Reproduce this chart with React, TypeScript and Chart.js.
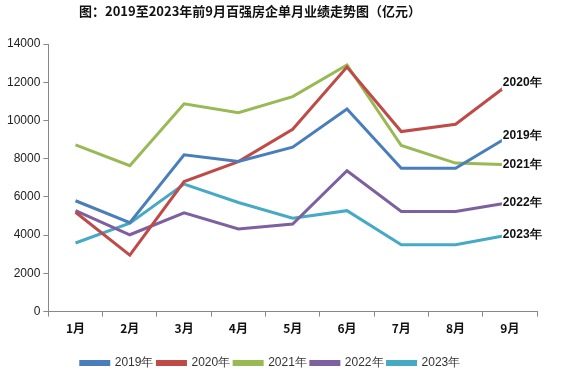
import React, { useEffect, useRef } from "react";
import { Chart, registerables } from "chart.js";

Chart.register(...registerables);

const months = ["1月", "2月", "3月", "4月", "5月", "6月", "7月", "8月", "9月"];
const seriesNames = ["2019年", "2020年", "2021年", "2022年", "2023年"];
const v2019 = [5800, 4650, 8200, 7850, 8600, 10600, 7500, 7500, 9200];
const v2020 = [5200, 2950, 6800, 7850, 9540, 12800, 9420, 9800, 11950];
const v2021 = [8720, 7630, 10870, 10410, 11250, 12900, 8690, 7770, 7680];
const v2022 = [5280, 4020, 5170, 4320, 4580, 7370, 5240, 5240, 5710];
const v2023 = [3590, 4630, 6670, 5710, 4890, 5280, 3500, 3500, 4020];
const colors = ["#4A7EBB", "#BE4B48", "#98B954", "#7D60A0", "#46AAC5"];
const titleText = "图：2019至2023年前9月百强房企单月业绩走势图（亿元）";

const endLabels = {
  id: "endLabels",
  afterDatasetsDraw(chart: any) {
    const ctx = chart.ctx;
    ctx.save();
    ctx.font = "bold 12px 'Liberation Sans', Arial, sans-serif";
    ctx.textBaseline = "middle";
    ctx.textAlign = "left";
    chart.data.datasets.forEach((ds: any, i: number) => {
      const meta = chart.getDatasetMeta(i);
      const pt = meta.data[meta.data.length - 1];
      if (!pt) return;
      const x = pt.x - 7;
      const y = pt.y;
      const w = ctx.measureText(ds.label).width;
      ctx.fillStyle = "#ffffff";
      ctx.fillRect(x - 1, y - 7, w + 2, 14);
      ctx.fillStyle = "#111111";
      ctx.fillText(ds.label, x, y);
    });
    ctx.restore();
  },
};

const titlePlugin = {
  id: "customTitle",
  afterDraw(chart: any) {
    const ctx = chart.ctx;
    ctx.save();
    ctx.font = "bold 13px 'Noto Sans CJK SC', sans-serif";
    ctx.fillStyle = "#111111";
    ctx.textAlign = "center";
    ctx.textBaseline = "middle";
    ctx.fillText(titleText, 250, 11);
    ctx.restore();
  },
};

export default function App() {
  const ref = useRef<HTMLCanvasElement>(null);
  useEffect(() => {
    document.body.style.margin = "0";
    const all = [v2019, v2020, v2021, v2022, v2023];
    const chart = new Chart(ref.current!, {
      type: "line",
      data: {
        labels: months,
        datasets: seriesNames.map((n, i) => ({
          label: n,
          data: all[i],
          borderColor: colors[i],
          backgroundColor: colors[i],
          borderWidth: 3,
          pointRadius: 0,
          tension: 0,
        })),
      },
      options: {
        animation: false,
        responsive: false,
        maintainAspectRatio: false,
        layout: { padding: { top: 44, right: 38, left: 4, bottom: 10 } },
        plugins: {
          title: { display: false },
          tooltip: { enabled: false },
          legend: {
            position: "bottom",
            labels: {
              boxWidth: 28,
              boxHeight: 3,
              padding: 4,
              color: "#333",
              font: { size: 12, family: "'Liberation Sans', Arial, sans-serif" },
            },
          },
        },
        scales: {
          x: {
            offset: true,
            afterFit: (scale: any) => {
              scale.height += 12;
            },
            grid: { drawOnChartArea: false, drawTicks: true, tickLength: 5, color: "#888", offset: true },
            border: { color: "#888" },
            ticks: {
              color: "#111",
              font: { size: 12, weight: "bold", family: "'Noto Sans CJK SC', sans-serif" },
              maxRotation: 0,
              padding: 5,
            },
          },
          y: {
            min: 0,
            max: 14000,
            grid: { drawOnChartArea: false, drawTicks: true, tickLength: 5, color: "#888" },
            border: { color: "#888" },
            ticks: {
              stepSize: 2000,
              color: "#222",
              font: { size: 12, family: "'Liberation Sans', Arial, sans-serif" },
              padding: 3,
              callback: (v: any) => String(v),
            },
          },
        },
      },
      plugins: [endLabels, titlePlugin],
    });
    return () => chart.destroy();
  }, []);
  return (
    <div style={{ width: 575, height: 389, background: "#fff" }}>
      <canvas ref={ref} width={575} height={389} />
    </div>
  );
}
